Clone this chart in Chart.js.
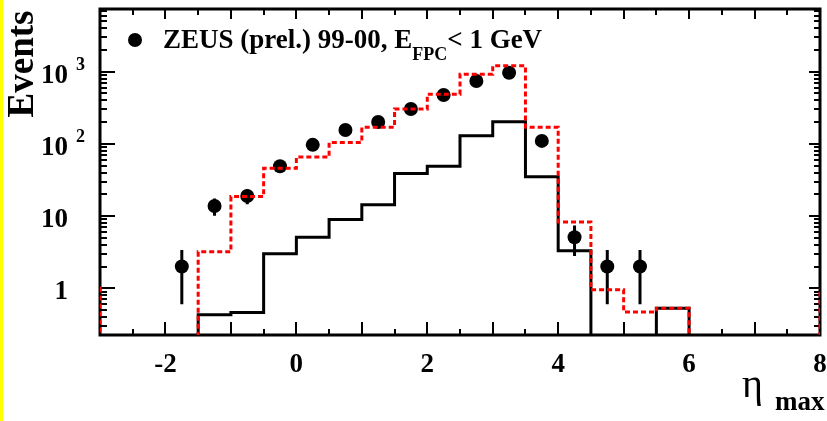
<!DOCTYPE html>
<html>
<head>
<meta charset="utf-8">
<script src="https://cdn.jsdelivr.net/npm/chart.js@4.4.1/dist/chart.umd.min.js"></script>
<style>
  html, body { margin: 0; padding: 0; background: #fff; }
  #wrap { position: relative; width: 827px; height: 421px; }
  #edge { position: absolute; left: 0; top: 0; width: 3px; height: 421px; background: #ffff00; }
</style>
</head>
<body>
<div id="wrap">
  <canvas id="chart" width="827" height="421"></canvas>
  <div id="edge"></div>
</div>
<script>
/* eta_max distribution, ZEUS (prel.) 99-00 */

// ── Data points ───────────────────────────────────────────────────────────────
const etaCentres = [-1.75, -1.25, -0.75, -0.25, 0.25, 0.75, 1.25, 1.75, 2.25, 2.75, 3.25, 3.75, 4.25, 4.75, 5.25];
const dataEvents = [2.0, 13.8, 19, 49, 97, 156, 201, 304, 476, 743, 968, 110, 5.1, 2.0, 2.0];
const dataErrors = [1.4, 3.7, 4.4, 7, 9.8, 12.5, 14.2, 17.4, 21.8, 27.3, 31.1, 10.5, 2.3, 1.4, 1.4];

// ── MC histograms (bin edges) ─────────────────────────────────────────────────
const mcEdges  = [-1.5, -1.0, -0.5, 0.0, 0.5, 1.0, 1.5, 2.0, 2.5, 3.0, 3.5, 4.0, 4.5, 5.0, 5.5, 6.0];
const mcTotal  = [3.2, 18.6, 46, 66, 105, 170, 304, 486, 920, 1210, 170, 8.3, 0.95, 0.47, 0.53];
const mcSignal = [0.43, 0.46, 3.0, 5.1, 9.0, 14.3, 39, 49, 130, 203, 35, 3.3, 0, 0, 0.53];

// under/overflow of the total MC, just outside the frame
const underEdges = [-3.5, -3.0];
const underTotal = [1.0];
const overEdges  = [8.0, 8.5];
const overTotal  = [1.0];

// ── Axes ──────────────────────────────────────────────────────────────────────
const xTickValues = [-2, 0, 2, 4, 6, 8];
const xTickLabels = ["-2", "0", "2", "4", "6", "8"];
const yTickValues = [1, 10, 100, 1000];
const yTickLabels = ["1", "10", "10", "10"];
const yTickExps   = ["", "", "2", "3"];

const FLOOR = 1e-3;   // "empty" bins go below the frame
const SERIF = '"Liberation Serif", "DejaVu Serif", serif';

function histPoints(edges, values) {
  const pts = [{ x: edges[0], y: FLOOR }];
  values.forEach((v, i) => {
    const y = v > 0 ? v : FLOOR;
    pts.push({ x: edges[i], y }, { x: edges[i + 1], y });
  });
  pts.push({ x: edges[edges.length - 1], y: FLOOR });
  return pts;
}

function errorBarPoints() {
  const pts = [];
  etaCentres.forEach((x, i) => {
    pts.push({ x, y: dataEvents[i] - dataErrors[i] });
    pts.push({ x, y: dataEvents[i] + dataErrors[i] });
    pts.push({ x, y: null });
  });
  return pts;
}

const redLine = { borderColor: "#ff0000", borderWidth: 3, borderDash: [5, 3], pointRadius: 0, showLine: true, tension: 0, order: 0 };

// ── Frame, ticks, labels ──────────────────────────────────────────────────────
const framePlugin = {
  id: "frame",
  beforeDatasetsDraw(chart) {
    const { ctx, chartArea: a, scales: { x, y } } = chart;
    ctx.save();
    ctx.strokeStyle = "#000";
    ctx.lineWidth = 2;
    ctx.beginPath();
    for (let v = Math.ceil(x.min * 2) / 2; v <= x.max + 1e-9; v += 0.5) {
      const px = Math.round(x.getPixelForValue(v));
      const major = Math.abs(v - Math.round(v)) < 1e-6;
      ctx.moveTo(px, a.bottom); ctx.lineTo(px, a.bottom - (major ? 13 : 6));
      ctx.moveTo(px, a.top);    ctx.lineTo(px, a.top + (major ? 10 : 6));
    }
    for (let d = 0.1; d <= 10000; d *= 10) {
      for (let k = 1; k <= 9; k++) {
        const v = k * d;
        if (v < y.min || v > y.max) continue;
        const py = Math.round(y.getPixelForValue(v));
        ctx.moveTo(a.left, py);  ctx.lineTo(a.left + (k === 1 ? 15 : 7), py);
        ctx.moveTo(a.right, py); ctx.lineTo(a.right - (k === 1 ? 11 : 6), py);
      }
    }
    ctx.stroke();
    ctx.lineWidth = 3;
    ctx.strokeRect(a.left, a.top, a.right - a.left, a.bottom - a.top);
    ctx.restore();
  },
  afterDraw(chart) {
    const { ctx, chartArea: a, scales: { x, y } } = chart;
    ctx.save();
    ctx.fillStyle = "#000";

    // x tick labels
    ctx.font = `bold 27px ${SERIF}`;
    ctx.textAlign = "center";
    ctx.textBaseline = "alphabetic";
    xTickValues.forEach((v, i) => ctx.fillText(xTickLabels[i], x.getPixelForValue(v), 372));

    // y tick labels (10 with exponent)
    yTickValues.forEach((v, i) => {
      const py = y.getPixelForValue(v);
      ctx.font = `bold 27px ${SERIF}`;
      ctx.textAlign = "right";
      ctx.fillText(yTickLabels[i], 68, py + 11);
      if (yTickExps[i]) {
        ctx.font = `bold 18px ${SERIF}`;
        ctx.textAlign = "left";
        ctx.fillText(yTickExps[i], 76, py - 2);
      }
    });

    // axis titles
    ctx.save();
    ctx.translate(33, 64);
    ctx.rotate(-Math.PI / 2);
    ctx.font = `bold 37px ${SERIF}`;
    ctx.textAlign = "center";
    ctx.fillText("Events", 0, 0);
    ctx.restore();

    ctx.textAlign = "left";
    ctx.font = `40px ${SERIF}`;
    ctx.fillText("η", 742, 397);
    ctx.font = `bold 27px ${SERIF}`;
    ctx.fillText("max", 775, 410);

    // legend
    ctx.beginPath();
    ctx.arc(135, 40, 7, 0, Math.PI * 2);
    ctx.fill();
    let tx = 163;
    ctx.font = `bold 27px ${SERIF}`;
    const t1 = "ZEUS (prel.) 99-00, E";
    ctx.fillText(t1, tx, 48);
    tx += ctx.measureText(t1).width;
    ctx.font = `bold 18px ${SERIF}`;
    ctx.fillText("FPC", tx, 60);
    tx += ctx.measureText("FPC").width;
    ctx.font = `bold 27px ${SERIF}`;
    ctx.fillText("< 1 GeV", tx, 48);

    ctx.restore();
  },
};

new Chart(document.getElementById("chart"), {
  type: "scatter",
  data: {
    datasets: [
      { data: histPoints(mcEdges, mcTotal), ...redLine },
      { data: histPoints(underEdges, underTotal), ...redLine },
      { data: histPoints(overEdges, overTotal), ...redLine },
      {
        data: histPoints(mcEdges, mcSignal),
        borderColor: "#000", borderWidth: 3, pointRadius: 0, showLine: true, tension: 0, order: 1,
      },
      {
        data: errorBarPoints(),
        borderColor: "#000", borderWidth: 3, pointRadius: 0, showLine: true, spanGaps: false, order: 3,
      },
      {
        data: etaCentres.map((x, i) => ({ x, y: dataEvents[i] })),
        pointRadius: 7, pointBackgroundColor: "#000", pointBorderWidth: 0, order: 2,
      },
    ],
  },
  options: {
    responsive: false,
    animation: false,
    layout: { padding: { left: 100, right: 6, top: 9, bottom: 86 } },
    plugins: { legend: { display: false }, tooltip: { enabled: false } },
    scales: {
      x: { type: "linear", min: -3, max: 8, display: false },
      y: { type: "logarithmic", min: 0.225, max: 7400, display: false },
    },
  },
  plugins: [framePlugin],
});
</script>
</body>
</html>
